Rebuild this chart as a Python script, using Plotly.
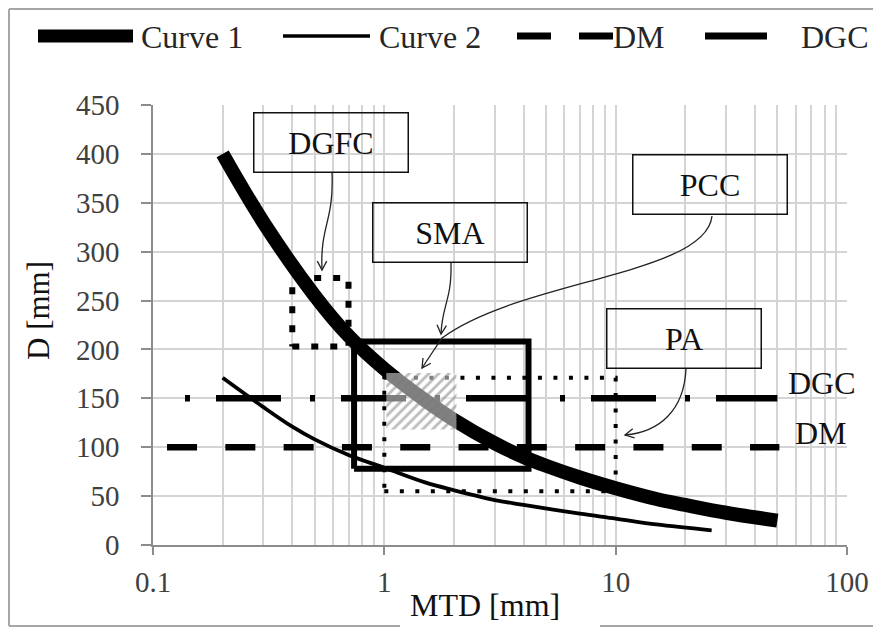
import math
import plotly.graph_objects as go

# ---------------- data ----------------
curve1_mtd = [0.2, 0.3, 0.5, 0.7, 1, 1.5, 2, 3, 4, 5, 7, 10, 15, 20, 30, 50]
curve1_d = [400, 330, 255, 214, 180, 148, 128, 104, 90, 81, 69, 58, 47, 41, 33, 25]

curve2_mtd = [0.2, 0.3, 0.4, 0.5, 0.7, 1, 1.5, 2, 3, 4, 7, 10, 15, 26]
curve2_d = [171, 141, 121, 108, 92, 79, 64, 56, 46, 41, 32, 27, 21, 15]

dm_mtd = [0.115, 51]
dm_d = [100, 100]
dgc_mtd = [0.1375, 50]
dgc_d = [150, 150]

# rectangles: [x_min, x_max], [y_min, y_max]
dgfc_x, dgfc_y = [0.40, 0.70], [203, 273]
sma_x, sma_y = [0.74, 4.2], [78, 208]
pa_x, pa_y = [1.0, 10.0], [55, 171]
pcc_x, pcc_y = [1.02, 2.05], [118, 176]

x_tickvals = [0.1, 1, 10, 100]
x_ticktext = ["0.1", "1", "10", "100"]
y_tickvals = [0, 50, 100, 150, 200, 250, 300, 350, 400, 450]

legend_names = ["Curve 1", "Curve 2", "DM", "DGC"]
box_labels = ["DGFC", "SMA", "PCC", "PA"]

SERIF = "Liberation Serif, Times New Roman, serif"

# ---------------- geometry helpers ----------------
# the page puts the figure 8 px from the window's top-left corner,
# so window coordinates are converted to figure coordinates first
OFF = 8
FW, FH = 881, 628
L, R, T, B = 153 - OFF, 847 - OFF, 105 - OFF, 545 - OFF
W, H = R - L, B - T


def px(x):
    return (x - OFF - L) / W


def py(y):
    return (B - (y - OFF)) / H


def rect(xs, ys):
    return ([xs[0], xs[1], xs[1], xs[0], xs[0]], [ys[0], ys[0], ys[1], ys[1], ys[0]])


fig = go.Figure()

# reference lines
fig.add_trace(go.Scatter(x=dm_mtd, y=dm_d, mode="lines", showlegend=False,
                         line=dict(color="black", width=6.5, dash="30px,28.3px")))
fig.add_trace(go.Scatter(x=dgc_mtd, y=dgc_d, mode="lines", showlegend=False,
                         line=dict(color="black", width=6.5, dash="5px,26px,65px,29px")))

# region boxes
bx, by = rect(dgfc_x, dgfc_y)
fig.add_trace(go.Scatter(x=bx, y=by, mode="lines", showlegend=False,
                         line=dict(color="black", width=6, dash="7px,12px")))
bx, by = rect(pa_x, pa_y)
fig.add_trace(go.Scatter(x=bx, y=by, mode="lines", showlegend=False,
                         line=dict(color="black", width=4, dash="4px,11.5px")))
bx, by = rect(sma_x, sma_y)
fig.add_trace(go.Scatter(x=bx, y=by, mode="lines", showlegend=False,
                         line=dict(color="black", width=6)))

# curves
fig.add_trace(go.Scatter(x=curve2_mtd, y=curve2_d, mode="lines", name=legend_names[1],
                         showlegend=False, line=dict(color="black", width=3.8, shape="spline")))
fig.add_trace(go.Scatter(x=curve1_mtd, y=curve1_d, mode="lines", name=legend_names[0],
                         showlegend=False, line=dict(color="black", width=14, shape="spline")))

# hatched PCC area on top
bx, by = rect(pcc_x, pcc_y)
fig.add_trace(go.Scatter(x=bx, y=by, mode="lines", fill="toself", showlegend=False,
                         line=dict(width=0, color="rgba(0,0,0,0)"),
                         fillcolor="rgba(255,255,255,0.5)",
                         fillpattern=dict(shape="/", fgcolor="#7a7a7a",
                                          bgcolor="rgba(255,255,255,0.5)",
                                          size=7, solidity=0.4)))

shapes = []
annotations = []

# outer chart border (bottom split around axis title)
bcol = "#a6a6a6"
for (x0, y0, x1, y1) in [(9, 9, 895, 9), (9, 9, 9, 626), (9, 626, 400, 626), (600, 626, 895, 626)]:
    shapes.append(dict(type="line", xref="paper", yref="paper", x0=px(x0), y0=py(y0),
                       x1=px(x1), y1=py(y1), line=dict(color=bcol, width=2)))

# custom legend
ly = 36
legend_samples = [
    dict(x0=38, x1=133, width=13, dash="solid"),
    dict(x0=283, x1=370, width=3.5, dash="solid"),
    dict(x0=517, x1=613, width=7, dash="34px,28px"),
    dict(x0=705, x1=767, width=7, dash="solid"),
]
legend_text_x = [139, 377, 611, 799]
for s, name, tx in zip(legend_samples, legend_names, legend_text_x):
    shapes.append(dict(type="line", xref="paper", yref="paper", x0=px(s["x0"]), y0=py(ly),
                       x1=px(s["x1"]), y1=py(ly),
                       line=dict(color="black", width=s["width"], dash=s["dash"])))
    annotations.append(dict(text=name, xref="paper", yref="paper", x=px(tx), y=py(ly + 1),
                            xanchor="left", yanchor="middle", showarrow=False,
                            font=dict(family=SERIF, size=32, color="#262626")))

# label boxes
box_geo = {  # center x, center y (window pixels)
    "DGFC": (331, 142.5),
    "SMA": (450, 232.5),
    "PCC": (709.5, 185),
    "PA": (684, 338),
}
for lab in box_labels:
    cx, cy = box_geo[lab]
    annotations.append(dict(text=lab, xref="paper", yref="paper", x=px(cx), y=py(cy),
                            xanchor="center", yanchor="middle", showarrow=False,
                            width=153, height=58, borderpad=0, bordercolor="#111",
                            borderwidth=1.5, font=dict(family=SERIF, size=32, color="#111")))

# DGC / DM labels on the right
annotations.append(dict(text="DGC", xref="paper", yref="paper", x=px(822), y=py(383),
                        xanchor="center", yanchor="middle", showarrow=False,
                        font=dict(family=SERIF, size=32, color="#111")))
annotations.append(dict(text="DM", xref="paper", yref="paper", x=px(821), y=py(433),
                        xanchor="center", yanchor="middle", showarrow=False,
                        font=dict(family=SERIF, size=32, color="#111")))

# axis titles
annotations.append(dict(text="MTD [mm]", xref="paper", yref="paper", x=px(485), y=py(605),
                        xanchor="center", yanchor="middle", showarrow=False,
                        font=dict(family=SERIF, size=32, color="#111")))
annotations.append(dict(text="D [mm]", xref="paper", yref="paper", x=px(38), y=py(311),
                        xanchor="center", yanchor="middle", showarrow=False, textangle=-90,
                        font=dict(family=SERIF, size=31, color="#111")))


# leader lines with arrowheads
def P(x, y):
    return f"{px(x):.5f},{py(y):.5f}"


def arrowhead(tip, frm, size=10, ang=28):
    dx, dy = tip[0] - frm[0], tip[1] - frm[1]
    n = math.hypot(dx, dy)
    ux, uy = dx / n, dy / n
    pts = []
    for s in (1, -1):
        a = math.radians(ang) * s
        rx = -(ux * math.cos(a) - uy * math.sin(a))
        ry = -(ux * math.sin(a) + uy * math.cos(a))
        pts.append((tip[0] + size * rx, tip[1] + size * ry))
    return f"M {P(*pts[0])} L {P(*tip)} L {P(*pts[1])}"


acol = "#222"
leaders = [
    # DGFC
    (f"M {P(332,173)} C {P(334,222)} {P(320,225)} {P(322,270)}", (322, 270), (322, 258)),
    # SMA
    (f"M {P(451,263)} C {P(452,300)} {P(442,305)} {P(441,334)}", (441, 334), (442, 322)),
    # PCC
    (f"M {P(712,216)} C {P(706,275)} {P(520,280)} {P(442,338)} L {P(422,368)}", (422, 368), (432, 353)),
    # PA
    (f"M {P(686,369)} C {P(684,410)} {P(660,432)} {P(625,435)}", (625, 435), (640, 432)),
]
for path, tip, frm in leaders:
    shapes.append(dict(type="path", xref="paper", yref="paper", path=path,
                       line=dict(color=acol, width=1.3)))
    shapes.append(dict(type="path", xref="paper", yref="paper", path=arrowhead(tip, frm),
                       line=dict(color=acol, width=1.3)))

grid_col = "#d4d4d4"
axis_col = "#8c8c8c"
fig.update_layout(
    width=FW, height=FH,
    margin=dict(l=L, r=FW - R, t=T, b=FH - B, pad=0),
    paper_bgcolor="white", plot_bgcolor="white",
    showlegend=False,
    shapes=shapes,
    annotations=annotations,
    xaxis=dict(type="log", range=[-1, 2], tickvals=x_tickvals, ticktext=x_ticktext,
               showgrid=True, gridcolor=grid_col, gridwidth=2,
               minor=dict(dtick="D1", showgrid=True, gridcolor=grid_col, gridwidth=1.5),
               showline=True, linecolor=axis_col, linewidth=1.5,
               ticks="outside", ticklen=8, tickcolor=axis_col, tickwidth=1.5,
               ticklabelstandoff=2,
               tickfont=dict(family=SERIF, size=29, color="#404040"),
               zeroline=False, automargin=False),
    yaxis=dict(range=[0, 450], tickvals=y_tickvals,
               showgrid=True, gridcolor=grid_col, gridwidth=2,
               showline=True, linecolor=axis_col, linewidth=1.5,
               ticks="outside", ticklen=10, tickcolor=axis_col, tickwidth=1.5,
               ticklabelstandoff=16,
               tickfont=dict(family=SERIF, size=29, color="#404040"),
               zeroline=False, automargin=False),
)

fig.write_html("out.html")
